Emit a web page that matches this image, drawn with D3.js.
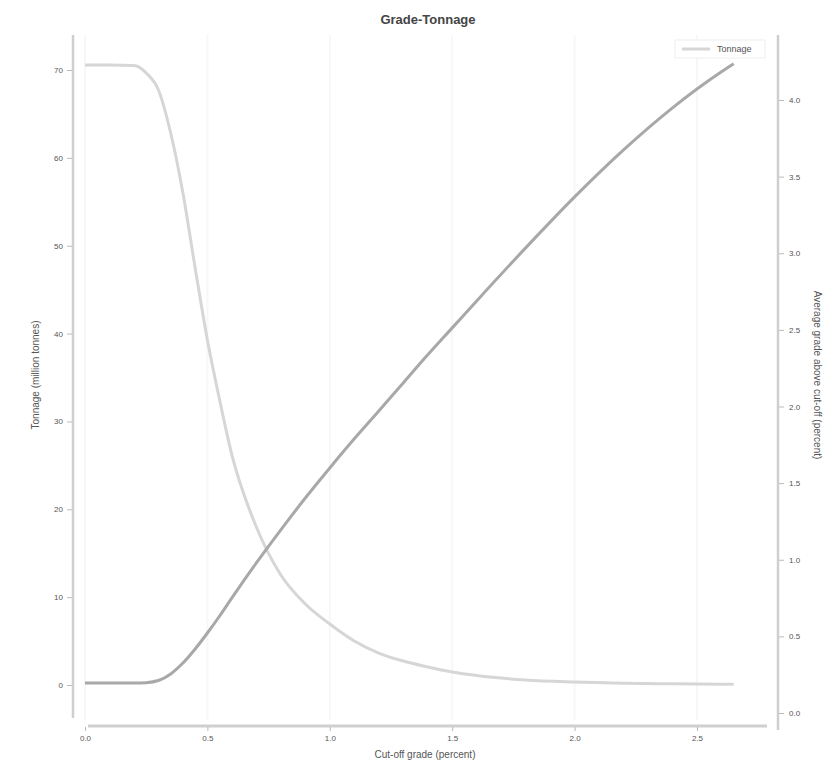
<!DOCTYPE html>
<html><head><meta charset="utf-8">
<script src="https://cdn.jsdelivr.net/npm/d3@7"></script>
<style>body{margin:0;background:#fff}svg{display:block}text{font-family:"Liberation Sans",Arial,sans-serif}</style>
</head><body><div id="chart"></div>
<script>
const cutoff =   [0.00, 0.10, 0.20, 0.25, 0.30, 0.35, 0.40, 0.45, 0.50, 0.55, 0.60, 0.70, 0.80, 0.90, 1.00, 1.10, 1.20, 1.30, 1.40, 1.50, 1.60, 1.80, 2.00, 2.20, 2.40, 2.60, 2.65];
const tonnage =  [70.57, 70.57, 70.51, 69.66, 67.72, 62.83, 56.0, 47.46, 39.27, 32.44, 26.18, 17.98, 12.52, 9.22, 6.94, 5.01, 3.64, 2.73, 2.05, 1.48, 1.08, 0.57, 0.34, 0.20, 0.14, 0.09, 0.08];
const avgGrade = [0.196, 0.196, 0.196, 0.198, 0.212, 0.255, 0.326, 0.418, 0.522, 0.633, 0.751, 0.979, 1.195, 1.403, 1.599, 1.789, 1.971, 2.154, 2.337, 2.513, 2.689, 3.035, 3.368, 3.675, 3.949, 4.184, 4.236];
const xTicks = [0, 0.5, 1.0, 1.5, 2.0, 2.5];
const leftTicks = [0, 10, 20, 30, 40, 50, 60, 70];
const rightTicks = [0, 0.5, 1.0, 1.5, 2.0, 2.5, 3.0, 3.5, 4.0];
const title = "Grade-Tonnage";
const xLabel = "Cut-off grade (percent)";
const yLeftLabel = "Tonnage (million tonnes)";
const yRightLabel = "Average grade above cut-off (percent)";
const legendLabel = "Tonnage";

const W = 824, H = 763;
const svg = d3.select("#chart").append("svg").attr("width", W).attr("height", H);

const x = d3.scaleLinear().domain([0, 2.5]).range([85, 697]);
const yL = d3.scaleLinear().domain([0, 70]).range([685, 70]);
const yR = d3.scaleLinear().domain([0, 4]).range([713, 100]);

const spineColor = "#cfcfcf";
const tonColor = "#d6d6d6";
const gradeColor = "#a8a8a8";
const textColor = "#555";

// faint vertical grid
svg.append("g").selectAll("line").data(xTicks).join("line")
  .attr("x1", d => x(d)).attr("x2", d => x(d)).attr("y1", 35).attr("y2", 720)
  .attr("stroke", "#f7f7f7").attr("stroke-width", 2);

// spines
svg.append("line").attr("x1", 73).attr("x2", 73).attr("y1", 35).attr("y2", 718).attr("stroke", spineColor).attr("stroke-width", 2.5);
svg.append("line").attr("x1", 778).attr("x2", 778).attr("y1", 35).attr("y2", 730).attr("stroke", spineColor).attr("stroke-width", 2.5);
svg.append("line").attr("x1", 88).attr("x2", 767).attr("y1", 726).attr("y2", 726).attr("stroke", spineColor).attr("stroke-width", 3);

function styleAxis(g){
  g.select(".domain").remove();
  g.selectAll(".tick line").attr("stroke", "#bbb");
  g.selectAll(".tick text").attr("fill", textColor).style("font-size", "8px");
}
svg.append("g").attr("transform", "translate(72,0)")
  .call(d3.axisLeft(yL).tickValues(leftTicks).tickFormat(d3.format("d")).tickSize(5).tickPadding(4)).call(styleAxis);
svg.append("g").attr("transform", "translate(779,0)")
  .call(d3.axisRight(yR).tickValues(rightTicks).tickFormat(d3.format(".1f")).tickSize(5).tickPadding(5)).call(styleAxis);
svg.append("g").attr("transform", "translate(0,727)")
  .call(d3.axisBottom(x).tickValues(xTicks).tickFormat(d3.format(".1f")).tickSize(4).tickPadding(4)).call(styleAxis);

const data = cutoff.map((c, i) => ({c, t: tonnage[i], g: avgGrade[i]}));
svg.append("path").datum(data)
  .attr("fill", "none").attr("stroke", tonColor).attr("stroke-width", 3)
  .attr("d", d3.line().x(d => x(d.c)).y(d => yL(d.t)).curve(d3.curveMonotoneX));
svg.append("path").datum(data)
  .attr("fill", "none").attr("stroke", gradeColor).attr("stroke-width", 3)
  .attr("d", d3.line().x(d => x(d.c)).y(d => yR(d.g)).curve(d3.curveMonotoneX));

// title & labels
svg.append("text").attr("x", 428).attr("y", 24).attr("text-anchor", "middle")
  .style("font-size", "13px").style("font-weight", "bold").attr("fill", "#444").text(title);
svg.append("text").attr("x", 425).attr("y", 758).attr("text-anchor", "middle")
  .style("font-size", "10px").attr("fill", textColor).text(xLabel);
svg.append("text").attr("transform", "translate(39,375) rotate(-90)").attr("text-anchor", "middle")
  .style("font-size", "10px").attr("fill", textColor).text(yLeftLabel);
svg.append("text").attr("transform", "translate(814,375) rotate(90)").attr("text-anchor", "middle")
  .style("font-size", "10px").attr("fill", textColor).text(yRightLabel);

// legend
const lg = svg.append("g");
lg.append("rect").attr("x", 675).attr("y", 40).attr("width", 90).attr("height", 18)
  .attr("fill", "#fff").attr("stroke", "#eee");
lg.append("line").attr("x1", 682).attr("x2", 710).attr("y1", 49).attr("y2", 49).attr("stroke", tonColor).attr("stroke-width", 3);
lg.append("text").attr("x", 717).attr("y", 52).style("font-size", "9px").attr("fill", textColor).text(legendLabel);
</script></body></html>
